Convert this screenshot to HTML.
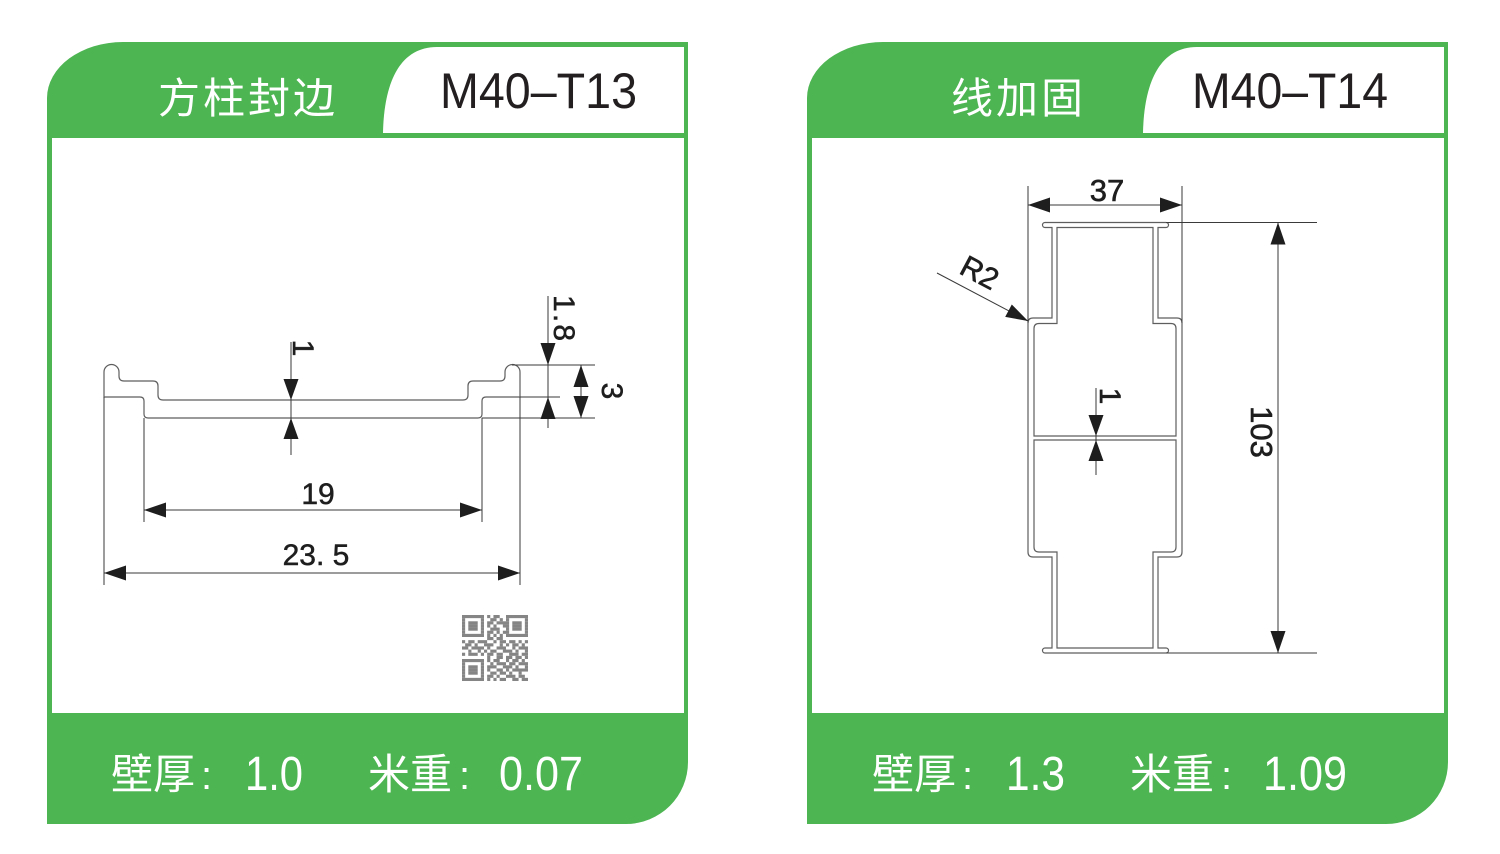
<!DOCTYPE html>
<html><head><meta charset="utf-8">
<style>html,body{margin:0;padding:0;background:#fff;}svg{display:block}</style>
</head>
<body>
<svg width="1500" height="854" viewBox="0 0 1500 854" xmlns="http://www.w3.org/2000/svg" font-family="'Liberation Sans','Noto Sans CJK SC',sans-serif">
<rect width="1500" height="854" fill="#fff"/>
<defs>
<g id="card">
 <path d="M47,824 V98 A76,56 0 0 1 123,42 H688 V762 A62,62 0 0 1 626,824 Z" fill="#4db552"/>
 <rect x="52" y="138" width="632" height="575" fill="#fff"/>
 <path d="M383,133 C384,82 400,47 437,47 H684 V133 Z" fill="#fff"/>
</g>
</defs>
<use href="#card"/>
<use href="#card" x="760"/>

<!-- Header texts -->
<text x="158" y="113" font-size="42" fill="#fff" letter-spacing="3">方柱封边</text>
<text x="951" y="113" font-size="42" fill="#fff" letter-spacing="3">线加固</text>
<text x="440" y="108" font-size="50" fill="#231f20" textLength="197" lengthAdjust="spacingAndGlyphs">M40–T13</text>
<text x="1192" y="108" font-size="50" fill="#231f20" textLength="196" lengthAdjust="spacingAndGlyphs">M40–T14</text>

<!-- Bottom texts left -->
<g fill="#fff">
<text x="111" y="789" font-size="42">壁厚</text>
<text x="201" y="789" font-size="40">:</text>
<text x="245" y="790" font-size="48" textLength="58" lengthAdjust="spacingAndGlyphs">1.0</text>
<text x="368" y="789" font-size="42">米重</text>
<text x="459" y="789" font-size="40">:</text>
<text x="499" y="790" font-size="48" textLength="84" lengthAdjust="spacingAndGlyphs">0.07</text>
<!-- right -->
<text x="872" y="789" font-size="42">壁厚</text>
<text x="962" y="789" font-size="40">:</text>
<text x="1006" y="790" font-size="48" textLength="59" lengthAdjust="spacingAndGlyphs">1.3</text>
<text x="1130" y="789" font-size="42">米重</text>
<text x="1221" y="789" font-size="40">:</text>
<text x="1263" y="790" font-size="48" textLength="84" lengthAdjust="spacingAndGlyphs">1.09</text>
</g>

<!-- LEFT DRAWING -->
<g fill="none" stroke="#5e5e5e" stroke-width="1.2">
<path d="M104,397 V372 A7.5,7.5 0 0 1 119,372 V376 Q119,381 124,381 H153 Q158,381 158,386 V395 Q158,400 163,400 H463 Q468,400 468,395 V386 Q468,381 473,381 H500 Q505,381 505,376 V372 A7.5,7.5 0 0 1 520,372 V397 H486 Q482,397 482,401 V414 Q482,418 478,418 H148 Q144,418 144,414 V401 Q144,397 140,397 H104 Z"/>
</g>
<g fill="none" stroke="#3a3a3a" stroke-width="1">
<path d="M104,397 V585 M520,397 V585 M144,418 V522 M482,418 V522 M512,365 H595 M520,397 H560 M482,418 H595"/>
<path d="M144,510 H482 M104,573 H520 M291,342 V455 M548,296 V428 M581,365 V418"/>
</g>
<g fill="#1e1e1e">
<polygon points="144,510 166,502.5 166,517.5"/>
<polygon points="482,510 460,502.5 460,517.5"/>
<polygon points="104,573 126,565.5 126,580.5"/>
<polygon points="520,573 498,565.5 498,580.5"/>
<polygon points="291,400 283.5,379 298.5,379"/>
<polygon points="291,418 283.5,439 298.5,439"/>
<polygon points="548,365 540.5,343 555.5,343"/>
<polygon points="548,397 540.5,419 555.5,419"/>
<polygon points="581,365 573.5,387 588.5,387"/>
<polygon points="581,418 573.5,396 588.5,396"/>
</g>
<g fill="#1e1e1e" stroke="#1e1e1e" stroke-width="0.5" font-size="30">
<text x="318" y="504" text-anchor="middle">19</text>
<text x="316" y="565" text-anchor="middle">23. 5</text>
<text transform="translate(304,348) rotate(90)" y="11" text-anchor="middle">1</text>
<text transform="translate(565,318) rotate(90)" y="11" text-anchor="middle" textLength="46" lengthAdjust="spacing">1.8</text>
<text transform="translate(613,391) rotate(90)" y="11" text-anchor="middle">3</text>
</g>

<!-- QR -->
<g fill="#858585" transform="translate(462,615) scale(3.143)">
<rect x="0" y="0" width="7" height="1"/><rect x="8" y="0" width="1" height="1"/><rect x="10" y="0" width="2" height="1"/><rect x="14" y="0" width="7" height="1"/>
<rect x="0" y="1" width="1" height="1"/><rect x="6" y="1" width="1" height="1"/><rect x="9" y="1" width="2" height="1"/><rect x="12" y="1" width="1" height="1"/><rect x="14" y="1" width="1" height="1"/><rect x="20" y="1" width="1" height="1"/>
<rect x="0" y="2" width="1" height="1"/><rect x="2" y="2" width="3" height="1"/><rect x="6" y="2" width="1" height="1"/><rect x="8" y="2" width="2" height="1"/><rect x="11" y="2" width="4" height="1"/><rect x="16" y="2" width="3" height="1"/><rect x="20" y="2" width="1" height="1"/>
<rect x="0" y="3" width="1" height="1"/><rect x="2" y="3" width="3" height="1"/><rect x="6" y="3" width="1" height="1"/><rect x="8" y="3" width="1" height="1"/><rect x="10" y="3" width="1" height="1"/><rect x="13" y="3" width="2" height="1"/><rect x="16" y="3" width="3" height="1"/><rect x="20" y="3" width="1" height="1"/>
<rect x="0" y="4" width="1" height="1"/><rect x="2" y="4" width="3" height="1"/><rect x="6" y="4" width="1" height="1"/><rect x="9" y="4" width="3" height="1"/><rect x="14" y="4" width="1" height="1"/><rect x="16" y="4" width="3" height="1"/><rect x="20" y="4" width="1" height="1"/>
<rect x="0" y="5" width="1" height="1"/><rect x="6" y="5" width="1" height="1"/><rect x="8" y="5" width="2" height="1"/><rect x="11" y="5" width="1" height="1"/><rect x="13" y="5" width="2" height="1"/><rect x="20" y="5" width="1" height="1"/>
<rect x="0" y="6" width="7" height="1"/><rect x="8" y="6" width="1" height="1"/><rect x="10" y="6" width="1" height="1"/><rect x="12" y="6" width="1" height="1"/><rect x="14" y="6" width="7" height="1"/>
<rect x="8" y="7" width="2" height="1"/><rect x="11" y="7" width="2" height="1"/>
<rect x="0" y="8" width="1" height="1"/><rect x="2" y="8" width="2" height="1"/><rect x="5" y="8" width="3" height="1"/><rect x="10" y="8" width="1" height="1"/><rect x="12" y="8" width="2" height="1"/><rect x="15" y="8" width="2" height="1"/><rect x="18" y="8" width="1" height="1"/><rect x="20" y="8" width="1" height="1"/>
<rect x="1" y="9" width="2" height="1"/><rect x="4" y="9" width="1" height="1"/><rect x="7" y="9" width="3" height="1"/><rect x="12" y="9" width="1" height="1"/><rect x="14" y="9" width="1" height="1"/><rect x="16" y="9" width="2" height="1"/><rect x="19" y="9" width="1" height="1"/>
<rect x="0" y="10" width="2" height="1"/><rect x="3" y="10" width="4" height="1"/><rect x="8" y="10" width="1" height="1"/><rect x="11" y="10" width="3" height="1"/><rect x="16" y="10" width="1" height="1"/><rect x="18" y="10" width="3" height="1"/>
<rect x="2" y="11" width="1" height="1"/><rect x="5" y="11" width="1" height="1"/><rect x="7" y="11" width="1" height="1"/><rect x="9" y="11" width="2" height="1"/><rect x="13" y="11" width="3" height="1"/><rect x="17" y="11" width="1" height="1"/><rect x="20" y="11" width="1" height="1"/>
<rect x="0" y="12" width="1" height="1"/><rect x="2" y="12" width="3" height="1"/><rect x="6" y="12" width="1" height="1"/><rect x="8" y="12" width="2" height="1"/><rect x="11" y="12" width="2" height="1"/><rect x="15" y="12" width="3" height="1"/><rect x="19" y="12" width="2" height="1"/>
<rect x="8" y="13" width="1" height="1"/><rect x="11" y="13" width="2" height="1"/><rect x="14" y="13" width="2" height="1"/><rect x="17" y="13" width="2" height="1"/><rect x="20" y="13" width="1" height="1"/>
<rect x="0" y="14" width="7" height="1"/><rect x="8" y="14" width="1" height="1"/><rect x="10" y="14" width="2" height="1"/><rect x="14" y="14" width="1" height="1"/><rect x="16" y="14" width="2" height="1"/><rect x="19" y="14" width="1" height="1"/>
<rect x="0" y="15" width="1" height="1"/><rect x="6" y="15" width="1" height="1"/><rect x="9" y="15" width="1" height="1"/><rect x="11" y="15" width="3" height="1"/><rect x="15" y="15" width="2" height="1"/><rect x="18" y="15" width="3" height="1"/>
<rect x="0" y="16" width="1" height="1"/><rect x="2" y="16" width="3" height="1"/><rect x="6" y="16" width="1" height="1"/><rect x="8" y="16" width="3" height="1"/><rect x="13" y="16" width="3" height="1"/><rect x="17" y="16" width="1" height="1"/><rect x="20" y="16" width="1" height="1"/>
<rect x="0" y="17" width="1" height="1"/><rect x="2" y="17" width="3" height="1"/><rect x="6" y="17" width="1" height="1"/><rect x="8" y="17" width="1" height="1"/><rect x="11" y="17" width="2" height="1"/><rect x="14" y="17" width="1" height="1"/><rect x="16" y="17" width="5" height="1"/>
<rect x="0" y="18" width="1" height="1"/><rect x="2" y="18" width="3" height="1"/><rect x="6" y="18" width="1" height="1"/><rect x="9" y="18" width="2" height="1"/><rect x="12" y="18" width="2" height="1"/><rect x="15" y="18" width="1" height="1"/><rect x="18" y="18" width="1" height="1"/>
<rect x="0" y="19" width="1" height="1"/><rect x="6" y="19" width="1" height="1"/><rect x="8" y="19" width="2" height="1"/><rect x="11" y="19" width="1" height="1"/><rect x="14" y="19" width="3" height="1"/><rect x="18" y="19" width="2" height="1"/>
<rect x="0" y="20" width="7" height="1"/><rect x="8" y="20" width="1" height="1"/><rect x="10" y="20" width="1" height="1"/><rect x="12" y="20" width="2" height="1"/><rect x="16" y="20" width="2" height="1"/><rect x="19" y="20" width="2" height="1"/>
</g>

<!-- RIGHT DRAWING -->
<g fill="none" stroke="#5e5e5e" stroke-width="1.2">
<path d="M1045,222.5 H1166 A2.5,2.5 0 0 1 1166,227.5 H1158 V318 H1177 Q1182,318 1182,323 V552 Q1182,557 1177,557 H1158 V648 H1166 A2.5,2.5 0 0 1 1166,653 H1045 A2.5,2.5 0 0 1 1045,648 H1052 V557 H1033 Q1028,557 1028,552 V323 Q1028,318 1033,318 H1052 V227.5 H1045 A2.5,2.5 0 0 1 1045,222.5 Z"/>
<path d="M1057,227.5 H1153 V323.5 H1171 Q1176,323.5 1176,328.5 V436 H1034 V328.5 Q1034,323.5 1039,323.5 H1057 Z"/>
<path d="M1034,440 H1176 V547 Q1176,552 1171,552 H1153 V648 H1057 V552 H1039 Q1034,552 1034,547 Z"/>
</g>
<g fill="none" stroke="#3a3a3a" stroke-width="1">
<path d="M1028,186 V323 M1182,186 V323 M1166,222.5 H1317 M1166,653 H1317"/>
<path d="M1028,205 H1182 M1278,222.5 V653 M1096,388 V475 M937,273 L1028,321"/>
</g>
<g fill="#1e1e1e">
<polygon points="1028,205 1050,197.5 1050,212.5"/>
<polygon points="1182,205 1160,197.5 1160,212.5"/>
<polygon points="1278,222.5 1270.5,244.5 1285.5,244.5"/>
<polygon points="1278,653 1270.5,631 1285.5,631"/>
<polygon points="1096,436 1088.5,415 1103.5,415"/>
<polygon points="1096,440 1088.5,461 1103.5,461"/>
<polygon points="1028,321 1005.2,316.9 1011.8,304.5"/>
</g>
<g fill="#1e1e1e" stroke="#1e1e1e" stroke-width="0.6">
<text x="1107" y="201" text-anchor="middle" font-size="31">37</text>
<text transform="translate(1262,432) rotate(90)" y="11" text-anchor="middle" font-size="31">103</text>
<text transform="translate(1111,396) rotate(90)" y="11" text-anchor="middle" font-size="30">1</text>
<text transform="translate(980,272) rotate(28)" y="11" text-anchor="middle" font-size="30">R2</text>
</g>
</svg>
</body></html>
